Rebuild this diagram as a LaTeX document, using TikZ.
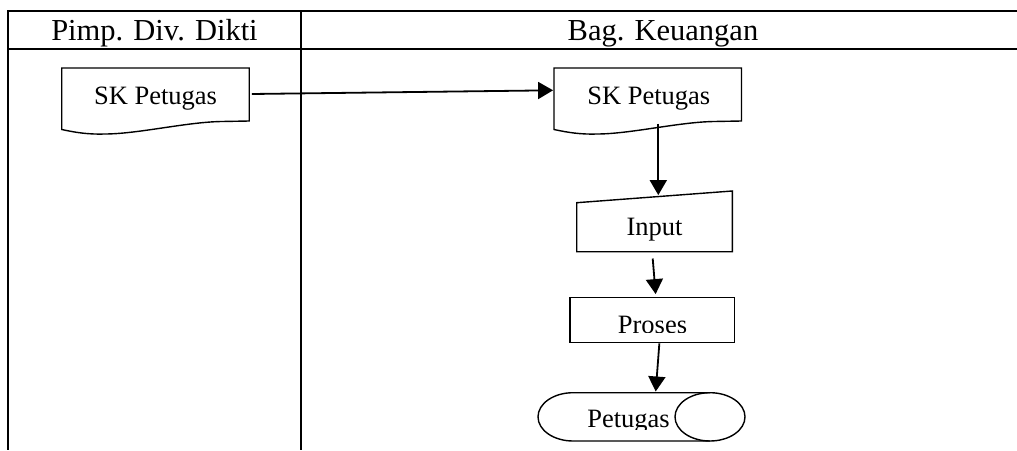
\documentclass[tikz,border=0pt]{standalone}
\usepackage{fontspec}
\setmainfont{Liberation Serif}
\usetikzlibrary{arrows.meta}

\begin{document}
\begin{tikzpicture}[x=1pt,y=-1pt,
  frame/.style={line width=2.2pt},
  rule/.style={line width=2pt},
  outline/.style={line width=1.4pt, line join=miter},
  box/.style={draw=none, rectangle, inner sep=0pt},
  flow/.style={line width=1.8pt, -{Triangle[length=15pt,width=17pt]}},
  head/.style={anchor=base, inner sep=0pt, font=\fontsize{30.5}{36}\selectfont},
  lbl/.style={anchor=base, inner sep=0pt, font=\fontsize{26.5}{30}\selectfont},
  docpic/.pic={
    \draw[outline] (0,0) -- (187.5,0) -- (187.5,53)
      -- (160,53.5) .. controls (125,54) and (76,66) .. (43,66)
      .. controls (26,66.5) and (14,64.5) .. (0,61.5) -- cycle;
  }
]
\useasboundingbox (0,0) rectangle (1017,450);

% swimlane frame
\draw[frame] (1017,11) -- (7,11);
\draw[frame] (8,49) -- (1017,49);
\draw[rule] (8,10) -- (8,450);
\draw[rule] (301,10) -- (301,450);
\node[head] (laneA) at (154.5,40.5) {Pimp. Div. Dikti};
\node[head] (laneB) at (663,40.5) {Bag. Keuangan};

% document: SK Petugas (left lane)
\pic at (61.7,68) {docpic};
\node[box, minimum width=187.5, minimum height=53] (skA) at (155.45,94.5) {};
\node[lbl] (skA-t) at (155.5,104) {SK Petugas};

% document: SK Petugas (right lane)
\pic at (554,68) {docpic};
\node[box, minimum width=187.5, minimum height=53] (skB) at (647.75,94.5) {};
\node[lbl] (skB-t) at (648.8,104) {SK Petugas};

% manual input
\draw[outline] (576.7,202.7) -- (732.3,191) -- (732.3,251.7) -- (576.7,251.7) -- cycle;
\node[box, minimum width=155.6, minimum height=60.7] (inp) at (654.5,221.35) {};
\node[lbl] (inp-t) at (654.5,235) {Input};

% process
\draw[outline] (570,297.3) rectangle (734.3,342.7);
\node[box, minimum width=164.3, minimum height=45.4] (pro) at (652.15,320) {};
\begin{scope}
  \clip (570,297.3) rectangle (734.3,332.5);
  \node[lbl] (pro-t) at (652.5,333) {Proses};
\end{scope}

% stored data
\draw[outline] (710,392.7) -- (573,392.7)
  arc[start angle=270, end angle=90, x radius=35, y radius=24.15] -- (710,441);
\draw[outline] (710,416.85) ellipse [x radius=35, y radius=24.15];
\node[box, minimum width=207, minimum height=48.3] (pet) at (641.5,416.85) {};
\begin{scope}
  \clip (540,392.7) rectangle (676,429.3);
  \node[lbl] (pet-t) at (628.5,427) {Petugas};
\end{scope}

% connectors
\draw[flow] ([shift={(2.5,-0.5)}]skA.east) -- ([shift={(-0.7,-4.2)}]skB.west);
\draw[flow] ([shift={(10.55,2.3)}]skB.south) -- ([shift={(3.8,4.3)}]inp.north);
\draw[flow] ([shift={(-1.8,6.6)}]inp.south) -- ([shift={(3.5,-3)}]pro.north);
\draw[flow] ([shift={(7.2,0.5)}]pro.south) -- ([shift={(14.2,-1)}]pet.north);
\end{tikzpicture}
\end{document}
